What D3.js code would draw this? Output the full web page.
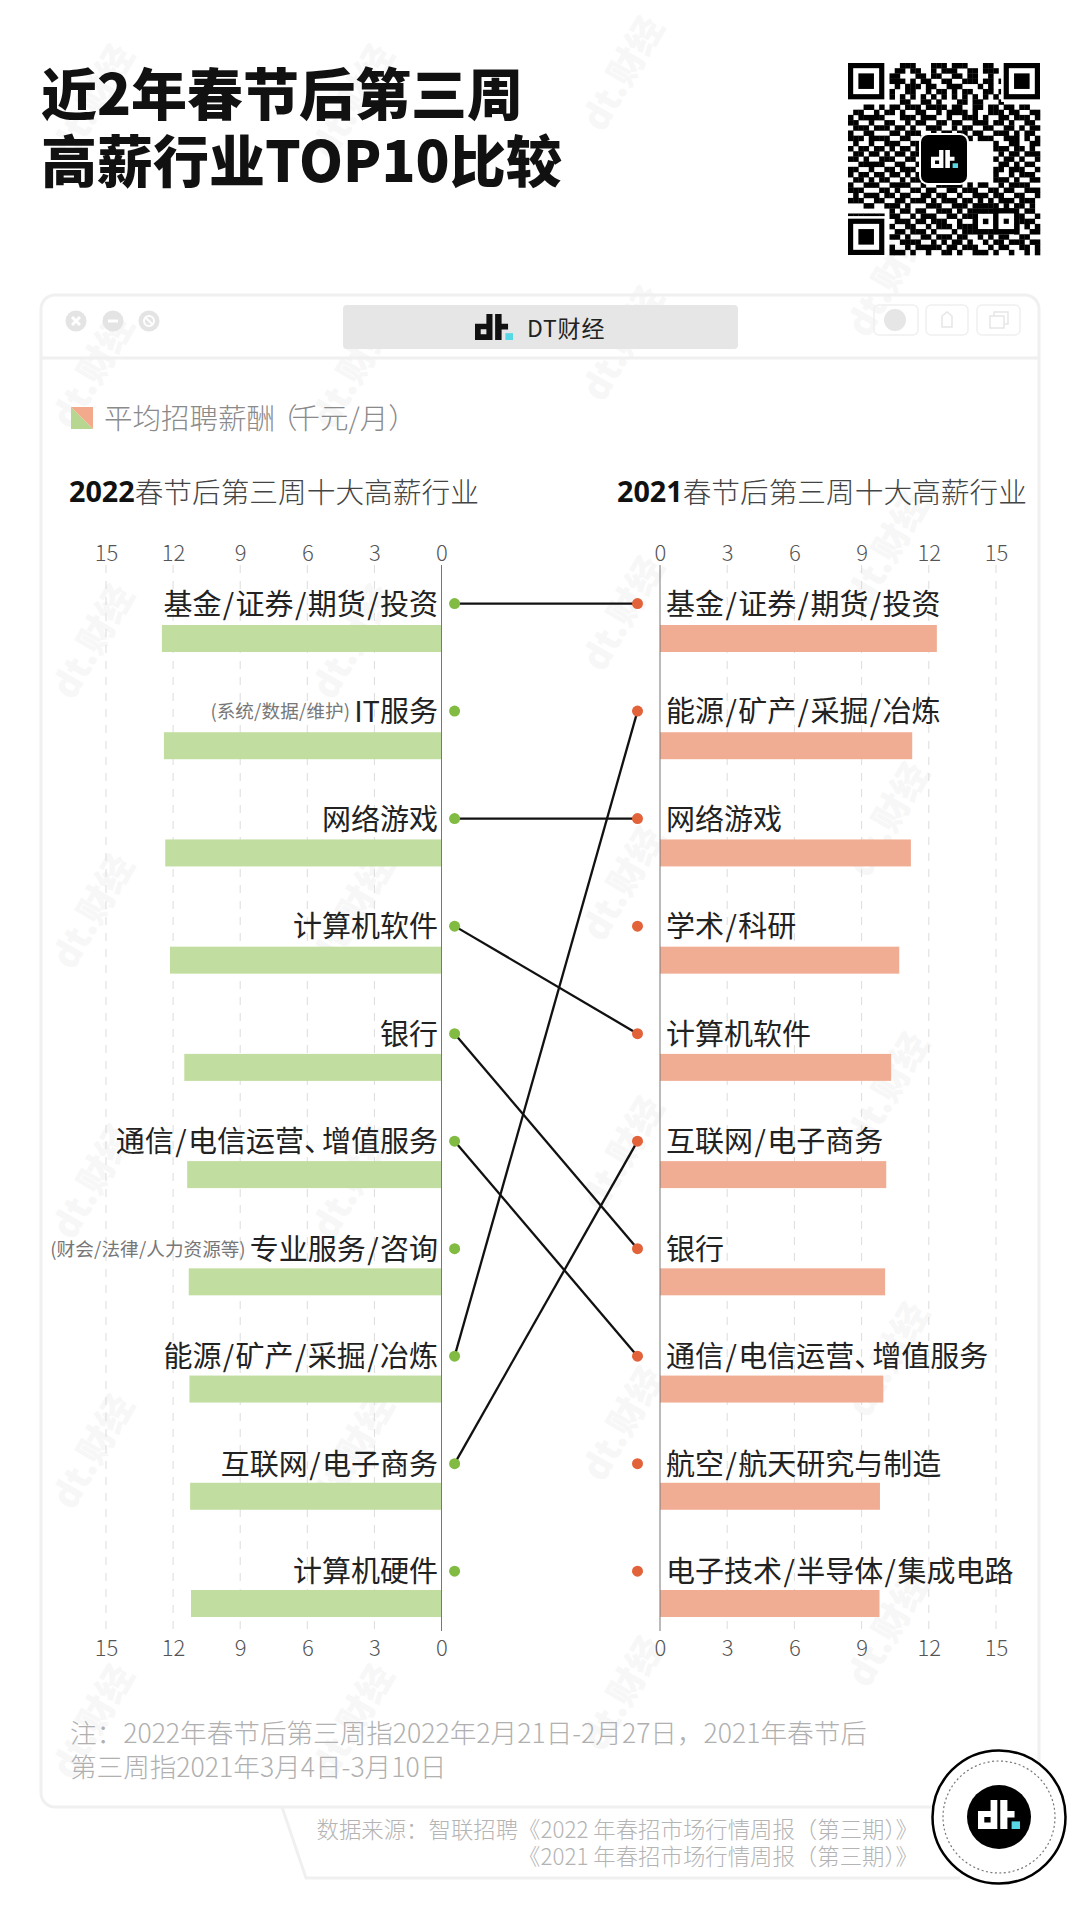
<!DOCTYPE html>
<html lang="zh">
<head>
<meta charset="utf-8">
<script src="https://cdn.jsdelivr.net/npm/d3@7"></script>
<style>
html,body{margin:0;padding:0;background:#fff;}
svg{display:block;}
text{font-family:"Noto Sans CJK SC","Noto Sans",sans-serif;}
</style>
</head>
<body>
<svg id="c" width="1080" height="1911"></svg>
<script>
const titleLines = ["近2年春节后第三周","高薪行业TOP10比较"];
const legendParts = ["平均招聘薪酬","（","千元/月","）"];
const heads = ["2022","2021"];
const headSuffix = "春节后第三周十大高薪行业";
const ticks = [0,3,6,9,12,15];
const industries2022 = ["基金/证券/期货/投资","IT服务","网络游戏","计算机软件","银行","通信/电信运营、增值服务","专业服务/咨询","能源/矿产/采掘/冶炼","互联网/电子商务","计算机硬件"];
const notes2022 = ["","(系统/数据/维护) ","","","","","(财会/法律/人力资源等) ","","",""];
const salary2022 = [12.5,12.41,12.35,12.14,11.5,11.37,11.3,11.27,11.24,11.2];
const industries2021 = ["基金/证券/期货/投资","能源/矿产/采掘/冶炼","网络游戏","学术/科研","计算机软件","互联网/电子商务","银行","通信/电信运营、增值服务","航空/航天研究与制造","电子技术/半导体/集成电路"];
const salary2021 = [12.36,11.26,11.2,10.68,10.32,10.1,10.05,9.97,9.82,9.8];
const noteLines = ["注：2022年春节后第三周指2022年2月21日-2月27日，2021年春节后","第三周指2021年3月4日-3月10日"];
const sourceLines = ["数据来源：智联招聘《2022 年春招市场行情周报（第三期）》","《2021 年春招市场行情周报（第三期）》"];
const brand = "DT财经";
const watermark = "dt.财经";
const qrRows = [
"1111111000111000111011100011001111111",
"1000001001101100101110011011101000001",
"1011101011000110110011011001001011101",
"1011101011101011001100111011011011101",
"1011101001011101100111000101001011101",
"1000001010011001011010110011011000001",
"1111111010101010101010101010101111111",
"0000000000110011010001101100010000000",
"0001101011011101111011001101101101100",
"0110010110100110010111101001110110011",
"1011111000111011100100111010011011101",
"1100100110010110011011001110110100110",
"0111011101101001110010110011001101011",
"1001100011011100101101101100111010110",
"1110111100110011011000010111001110101",
"0100100111001110110000000000100110011",
"1011011010110101001000000000111011010",
"0110110101101100111000000000010110111",
"1101001110011011010000000000101101001",
"0011111001100110111000000000011010110",
"1100100110111001100000000000110111001",
"1011011011010110101000000000100101110",
"0110101100101101110000000000111010011",
"1001110011110010011111010110010111100",
"1110001101001101100110111001101100111",
"0101110110110011011001001110110011001",
"1110011001101110101110110101011101110",
"0001100111010001110011101111101011010",
"0000000010110110011101011111111100110",
"1111111011001011100110111000101011001",
"1000001001110110111001001010111001110",
"1011101010011001011101111000110110101",
"1011101001101110100010111111100010011",
"1011101011010011011101100101011001100",
"1000001000111100101011010010110111011",
"1111111010010111110110111001011001101",
"0000000011101001001101001110100100101"
];

const svg = d3.select("#c");
const INK="#111", GREEN="#bfdc9c", ORANGE="#f1aa90", DOTG="#82bb42", DOTO="#e2623a", CYAN="#58d8e4", FRAME="#f0f0f0";

// background watermarks
const wmCols = [90,350,620,885];
const wmStart = [100,100,72,8];
const gW = svg.append("g");
wmCols.forEach((x,c)=>{
  d3.range(0,8).forEach(k=>{
    const y = wmStart[c]+270*k;
    if (y<60 || y>1850) return;
    gW.append("text").text(watermark)
      .attr("transform",`translate(${x},${y}) rotate(-60)`)
      .attr("text-anchor","middle").attr("dominant-baseline","central")
      .attr("font-size",36).attr("font-weight",900).attr("fill","#f7f7f7");
  });
});

// title
titleLines.forEach((t,i)=>{
  svg.append("text").text(t).attr("x",41).attr("y",90+i*67)
    .attr("dominant-baseline","central")
    .attr("font-size",56).attr("font-weight",900).attr("fill",INK);
});

function logo(g,x,y,w,h,col,cyan){
  const u=w/10,v=h/8;
  const p=g.append("g").attr("fill",col);
  p.append("path").attr("fill-rule","evenodd").attr("d",
    `M${x+3*u},${y}h${1.6*u}v${8*v}h${-4.6*u}v${-5*v}h${3*u}z M${x+1.5*u},${y+4.7*v}v${1.5*v}h${1.5*u}v${-1.5*v}z`);
  p.append("path").attr("d",
    `M${x+5.3*u},${y}h${1.7*u}v${3*v}h${1.7*u}v${1.8*v}h${-1.7*u}v${3.2*v}h${-1.7*u}z`);
  g.append("rect").attr("x",x+8*u).attr("y",y+5.9*v).attr("width",2*u).attr("height",2.1*v).attr("fill",cyan);
}

// QR
const qr = svg.append("g");
const qrX=848, qrY=63, qrM=192/37;
const qrCells=[];
qrRows.forEach((r,j)=>{ [...r].forEach((c,i)=>{ if(c==="1") qrCells.push([i,j]); }); });
qr.selectAll("rect").data(qrCells).join("rect")
  .attr("x",d=>qrX+d[0]*qrM).attr("y",d=>qrY+d[1]*qrM)
  .attr("width",qrM+.3).attr("height",qrM+.3).attr("fill","#000");
function finder(cx,cy,n){
  [[n,"#000"],[n-2,"#fff"],[n-4,"#000"]].forEach(([s,f])=>{
    qr.append("rect").attr("x",qrX+(cx-s/2)*qrM).attr("y",qrY+(cy-s/2)*qrM)
      .attr("width",s*qrM).attr("height",s*qrM).attr("fill",f);
  });
}
[[3.5,3.5],[33.5,3.5],[3.5,33.5]].forEach(p=>{
  qr.append("rect").attr("x",qrX+(p[0]-4)*qrM).attr("y",qrY+(p[1]-4)*qrM).attr("width",8*qrM).attr("height",8*qrM).attr("fill","#fff");
  finder(p[0],p[1],7);
});
finder(30.5,30.5,5);
qr.append("rect").attr("x",919).attr("y",133).attr("width",50).attr("height",52).attr("rx",9).attr("fill","#fff");
qr.append("rect").attr("x",921).attr("y",135).attr("width",46).attr("height",48).attr("rx",7).attr("fill","#000");
logo(qr,931,150,27,18,"#fff",CYAN);

// window frame
const frame = svg.append("g").attr("fill","none").attr("stroke",FRAME).attr("stroke-width",3);
frame.append("rect").attr("x",41).attr("y",295).attr("width",998).attr("height",1512).attr("rx",14);
frame.append("line").attr("x1",41).attr("x2",1039).attr("y1",358).attr("y2",358);
svg.append("rect").attr("x",343).attr("y",305).attr("width",395).attr("height",44).attr("rx",4).attr("fill","#e6e6e6");
logo(svg.append("g"),475,314,38,26,"#111",CYAN);
svg.append("text").text(brand).attr("x",527).attr("y",327).attr("dominant-baseline","central")
  .attr("font-size",23).attr("fill","#222").attr("letter-spacing",0.8);
const ctrlX=[76,113,149];
ctrlX.forEach((x,i)=>{
  svg.append("circle").attr("cx",x).attr("cy",321).attr("r",10.5).attr("fill","#e4e4e4");
  const g=svg.append("g").attr("stroke","#fff").attr("stroke-width",3).attr("transform",`translate(${x},321)`);
  if(i===0){g.append("line").attr("x1",-4).attr("y1",-4).attr("x2",4).attr("y2",4);g.append("line").attr("x1",4).attr("y1",-4).attr("x2",-4).attr("y2",4);}
  if(i===1){g.append("line").attr("x1",-5).attr("y1",0).attr("x2",5).attr("y2",0);}
  if(i===2){g.append("circle").attr("r",5).attr("fill","none").attr("stroke-width",2);g.append("line").attr("x1",-4).attr("y1",-4).attr("x2",4).attr("y2",4).attr("stroke-width",2);}
});
[[874,44],[926,42],[977,43]].forEach(([x,w])=>{
  svg.append("rect").attr("x",x).attr("y",305).attr("width",w).attr("height",30).attr("rx",5)
    .attr("fill","none").attr("stroke","#f0f0f0").attr("stroke-width",1.5);
});
svg.append("circle").attr("cx",895).attr("cy",320).attr("r",11).attr("fill","#e6e6e6");
svg.append("path").attr("d","M942,316l5,-4l5,4v11h-10z").attr("fill","none").attr("stroke","#e6e6e6").attr("stroke-width",1.5);
svg.append("path").attr("d","M990,316h14v12h-14z M994,316v-4h14v12h-4").attr("fill","none").attr("stroke","#e6e6e6").attr("stroke-width",1.5);

// legend
svg.append("path").attr("d","M71,407L93,429H71Z").attr("fill","#b7d68f");
svg.append("path").attr("d","M71,407H93V429Z").attr("fill","#f3a98b");
const legendT = svg.append("text").attr("x",104).attr("y",416).attr("dominant-baseline","central")
  .attr("font-size",28.5).attr("font-weight",300).attr("fill","#8a8a8a");
legendParts.forEach((p,i)=>legendT.append("tspan").text(p).attr("dx",i===1||i===2?-6:0));

// sub heads
[[69,0],[617,1]].forEach(([x,i])=>{
  const t=svg.append("text").attr("x",x).attr("y",490).attr("dominant-baseline","central").attr("font-size",28.7);
  t.append("tspan").text(heads[i]).attr("font-weight",700).attr("fill","#111").attr("font-family","Open Sans");
  t.append("tspan").text(headSuffix).attr("font-weight",300).attr("fill","#444");
});

// scales
const rows = d3.range(10);
const xL = d3.scaleLinear().domain([0,15]).range([441.5,106]);
const xR = d3.scaleLinear().domain([0,15]).range([660,996]);
const yBar = d3.scalePoint().domain(rows).range([625,1590]);
const yRow = d3.scalePoint().domain(rows).range([603.6,1571.2]);
const barH = 27;
const axisTop = 565, axisBot = 1631;

// grid
[xL,xR].forEach(x=>{
  svg.append("g").selectAll("line").data(ticks.slice(1)).join("line")
    .attr("x1",x).attr("x2",x).attr("y1",axisTop).attr("y2",axisBot)
    .attr("stroke","#dcdcdc").attr("stroke-width",1).attr("stroke-dasharray","8 8");
});

// bars
svg.append("g").selectAll("rect").data(salary2022).join("rect")
  .attr("x",d=>xL(d)).attr("y",(d,i)=>yBar(i)).attr("width",d=>xL(0)-xL(d)).attr("height",barH)
  .attr("fill",GREEN).attr("fill-opacity",.97);
svg.append("g").selectAll("rect").data(salary2021).join("rect")
  .attr("x",xR(0)).attr("y",(d,i)=>yBar(i)).attr("width",d=>xR(d)-xR(0)).attr("height",barH)
  .attr("fill",ORANGE).attr("fill-opacity",.97);

// zero lines
[xL,xR].forEach(x=>{
  svg.append("line").attr("x1",x(0)).attr("x2",x(0)).attr("y1",axisTop).attr("y2",axisBot)
    .attr("stroke","#777").attr("stroke-width",1);
});

// axes
function tickAxis(gen,y){
  const g=svg.append("g").attr("transform",`translate(0,${y})`).call(gen.tickValues(ticks).tickSize(0).tickPadding(0));
  g.select(".domain").remove();
  g.selectAll("text").attr("font-size",22).attr("font-weight",300).attr("fill","#555")
    .attr("font-family",'"Noto Sans CJK SC"').attr("dy",0).attr("dominant-baseline","central");
}
tickAxis(d3.axisTop(xL),551); tickAxis(d3.axisTop(xR),551);
tickAxis(d3.axisBottom(xL),1646); tickAxis(d3.axisBottom(xR),1646);

// links
const dotL = 454.6, dotR = 637.5;
const links = industries2022.map((n,i)=>({i,j:industries2021.indexOf(n)})).filter(d=>d.j>=0);
svg.append("g").selectAll("line").data(links).join("line")
  .attr("x1",dotL).attr("x2",dotR).attr("y1",d=>yRow(d.i)).attr("y2",d=>yRow(d.j))
  .attr("stroke","#111").attr("stroke-width",2.3);

// dots
svg.append("g").selectAll("circle").data(rows).join("circle")
  .attr("cx",dotL).attr("cy",d=>yRow(d)).attr("r",5.5).attr("fill",DOTG);
svg.append("g").selectAll("circle").data(rows).join("circle")
  .attr("cx",dotR).attr("cy",d=>yRow(d)).attr("r",5.5).attr("fill",DOTO);

// labels: slashes get a little air and the enumeration comma closes up, as in the reference
function spaced(sel, str, gap){
  let dx = 0;
  str.split(/(\/|、)/).filter(s=>s.length).forEach(part=>{
    if(part==="/"){
      sel.append("tspan").text(part).attr("dx",dx+gap); dx=gap;
    } else if(part==="、"){
      sel.append("tspan").text(part).attr("dx",dx); dx=-11;
    } else {
      sel.append("tspan").text(part).attr("dx",dx); dx=0;
    }
  });
}
const labelY = i => yRow(i)-2;
svg.append("g").selectAll("text").data(industries2022).join("text")
  .attr("x",438).attr("y",(d,i)=>labelY(i)).attr("text-anchor","end").attr("dominant-baseline","central")
  .attr("font-size",29).attr("fill","#222")
  .each(function(d,i){
    const t=d3.select(this);
    if(notes2022[i]){
      const n=t.append("tspan").attr("font-size",18.6).attr("fill","#777");
      spaced(n,notes2022[i],0.2);
    }
    spaced(t,d,1.4);
  });
svg.append("g").selectAll("text").data(industries2021).join("text")
  .attr("x",666).attr("y",(d,i)=>labelY(i)).attr("dominant-baseline","central")
  .attr("font-size",29).attr("fill","#222")
  .each(function(d){ spaced(d3.select(this),d,1.4); });

// note
noteLines.forEach((t,i)=>{
  svg.append("text").text(t).attr("x",70).attr("y",1731+i*34).attr("dominant-baseline","central")
    .attr("font-size",26.6).attr("font-weight",300).attr("fill","#b0b0b0");
});

// source ribbon
svg.append("path").attr("d","M282,1807L306,1878H960").attr("fill","none").attr("stroke",FRAME).attr("stroke-width",3);
sourceLines.forEach((t,i)=>{
  svg.append("text").text(t).attr("x",918).attr("y",1828+i*27).attr("text-anchor","end").attr("dominant-baseline","central")
    .attr("font-size",22.4).attr("font-weight",300).attr("fill","#b4b4b4");
});

// badge
const bx=999,by=1817;
svg.append("circle").attr("cx",bx).attr("cy",by).attr("r",66.5).attr("fill","#fff").attr("stroke","#000").attr("stroke-width",2.5);
svg.append("circle").attr("cx",bx).attr("cy",by).attr("r",56).attr("fill","none").attr("stroke","#777").attr("stroke-width",1.2).attr("stroke-dasharray","2 2.5");
svg.append("circle").attr("cx",bx).attr("cy",by).attr("r",32).attr("fill","#000");
logo(svg.append("g"),978,1800,42,29,"#fff",CYAN);
</script>
</body>
</html>
